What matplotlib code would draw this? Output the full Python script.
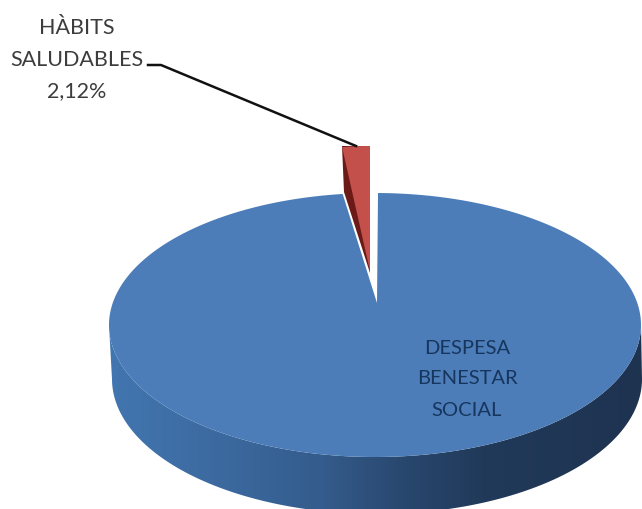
import numpy as np
import matplotlib
matplotlib.use("Agg")
import matplotlib.pyplot as plt
from matplotlib.colors import LinearSegmentedColormap
from matplotlib.patches import Polygon

categories = ["DESPESA\nBENESTAR\nSOCIAL", "HÀBITS\nSALUDABLES\n2,12%"]
values = [97.88, 2.12]

W, H = 642, 509
plt.rcParams['font.family'] = ['Lato', 'DejaVu Sans']
fig = plt.figure(figsize=(W / 100, H / 100), dpi=100)
ax = fig.add_axes([0, 0, 1, 1])
ax.set_xlim(0, W)
ax.set_ylim(H, 0)
ax.axis("off")

sweep = [v / sum(values) * 360 for v in values]

def rim(cx, cy, rx, ry, a0, a1, n=300):
    t = np.radians(np.linspace(a0, a1, n))   # clockwise from 12 o'clock
    return cx + rx * np.sin(t), cy - ry * np.cos(t)

# blue slice: side wall with a horizontal gradient
tx, ty = rim(375, 325, 266, 132, 90, 270)
bx, by = rim(377, 379, 265, 135, 90, 270)
wall = Polygon(np.r_[np.c_[tx, ty], np.c_[bx, by][::-1]], closed=True,
               transform=ax.transData, fc="none", ec="none")
ax.add_patch(wall)
cmap = LinearSegmentedColormap.from_list(
    "wall", [(0, "#4276b0"), (0.2, "#3c6aa0"), (0.4, "#345c8c"),
             (0.55, "#29486f"), (0.7, "#213a5a"), (1, "#1e3350")])
im = ax.imshow(np.linspace(0, 1, 256)[None, :], extent=(108, 642, H, 300),
               cmap=cmap, aspect="auto", zorder=1)
im.set_clip_path(wall)
ax.set_xlim(0, W)
ax.set_ylim(H, 0)

# blue slice: top face
start = 0.65
ex, ey = rim(375, 325, 266, 132, start, start + sweep[0], 600)
ax.fill(np.r_[377, ex], np.r_[303, ey], color="#4c7db9", lw=0, zorder=2)

# red slice, pulled out of the pie
rx_, ry_ = rim(370, 272, 210, 126, -sweep[1], 0, 30)
ax.fill([342, 344, 370, 370], [146, 192, 273, 146], color="#6b1a18", lw=0, zorder=3)
ax.fill(np.r_[370, rx_], np.r_[271, ry_], color="#c4504c", lw=0, zorder=4)

# labels
ax.text(77, 60, categories[1], ha="center", va="center", fontsize=15.5,
        color="#3d3d3d", linespacing=1.72, zorder=5)
ax.text(467, 379, categories[0], ha="center", va="center", fontsize=14.5,
        color="#17365d", linespacing=2.0, zorder=5)
ax.plot([148, 161, 356], [65, 65, 146], color="#111111", lw=1.8, zorder=5,
        solid_joinstyle="round")

fig.savefig("out.png", dpi=100, facecolor="white")
